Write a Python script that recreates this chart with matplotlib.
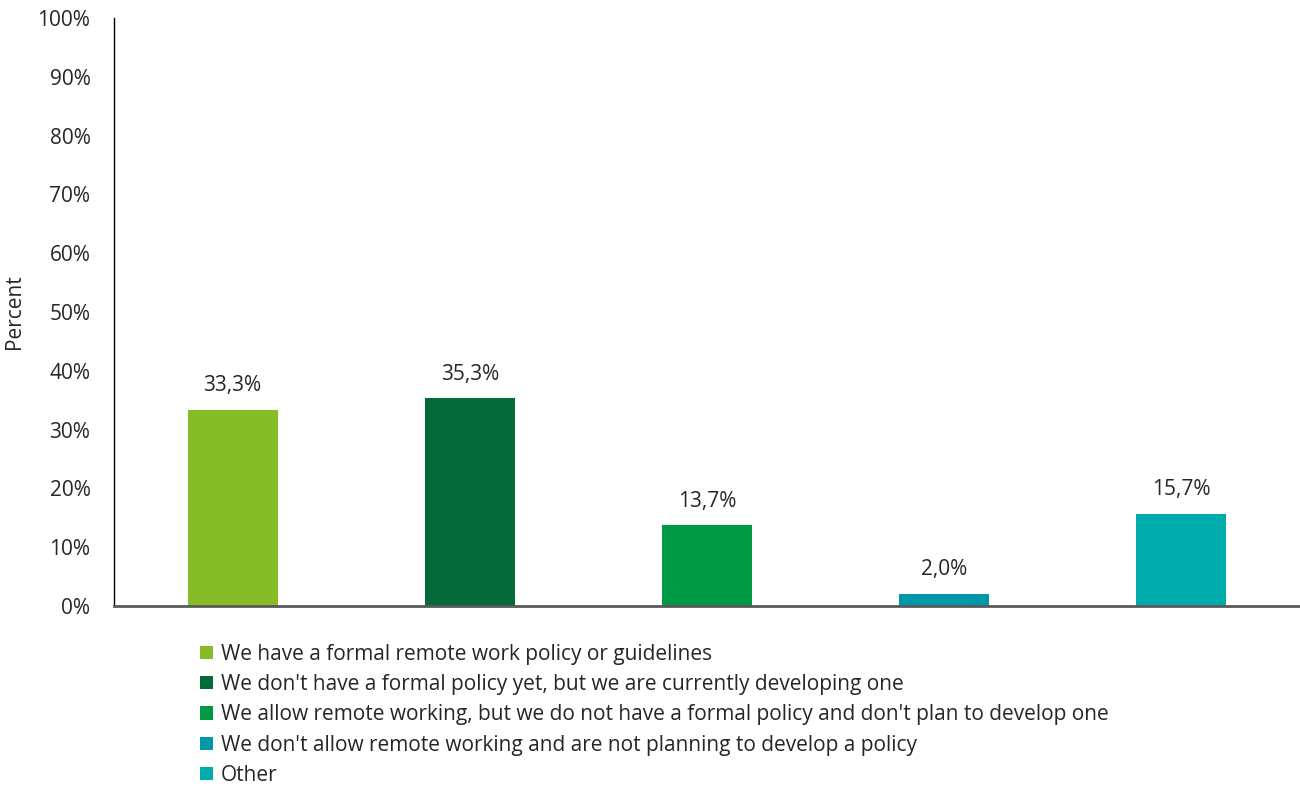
import matplotlib
matplotlib.use("Agg")
import matplotlib.pyplot as plt
from matplotlib.patches import Patch

plt.rcParams['font.family'] = ['Open Sans', 'DejaVu Sans']

categories = [
    "We have a formal remote work policy or guidelines",
    "We don't have a formal policy yet, but we are currently developing one",
    "We allow remote working, but we do not have a formal policy and don't plan to develop one",
    "We don't allow remote working and are not planning to develop a policy",
    "Other",
]
values = [33.3, 35.3, 13.7, 2.0, 15.7]
colors = ["#86BC25", "#046A38", "#009A44", "#0097A9", "#00ABAB"]
yticks = [0, 10, 20, 30, 40, 50, 60, 70, 80, 90, 100]

FS = 15
fig = plt.figure(figsize=(13, 7.87), dpi=100)
ax = fig.add_axes([114/1300, 1-606/787, 1186/1300, 588/787])

x = list(range(len(values)))
bars = ax.bar(x, values, width=0.38, color=colors)
for xi, v in zip(x, values):
    ax.annotate(f"{v:.1f}%".replace('.', ','), (xi, v), xytext=(0, 10),
                textcoords='offset points', ha='center', va='bottom',
                fontsize=FS, color='#262626')

ax.set_xlim(-0.5, len(values) - 0.5)
ax.set_ylim(0, 100)
ax.set_yticks(yticks)
ax.set_yticklabels([f"{t}%" for t in yticks], fontsize=FS, color='#262626')
ax.tick_params(axis='y', length=0, pad=17)
ax.set_xticks([])
ax.spines['top'].set_visible(False)
ax.spines['right'].set_visible(False)
ax.spines['left'].set_color('black')
ax.spines['left'].set_linewidth(1.0)
ax.spines['bottom'].set_color('#595959')
ax.spines['bottom'].set_linewidth(2.0)
fig.text(15/1300, 1-312/787, "Percent", rotation=90, ha='center', va='center',
         fontsize=FS, color='#262626')

handles = [Patch(facecolor=c, edgecolor='none') for c in colors]
fig.legend(handles, categories, loc='upper left', bbox_to_anchor=(200/1300, 1-644/787),
           frameon=False, fontsize=FS, handlelength=0.6, handleheight=0.6,
           handletextpad=0.4, labelspacing=0.44, borderpad=0, borderaxespad=0,
           labelcolor='#262626')

fig.savefig("out.png", dpi=100)
